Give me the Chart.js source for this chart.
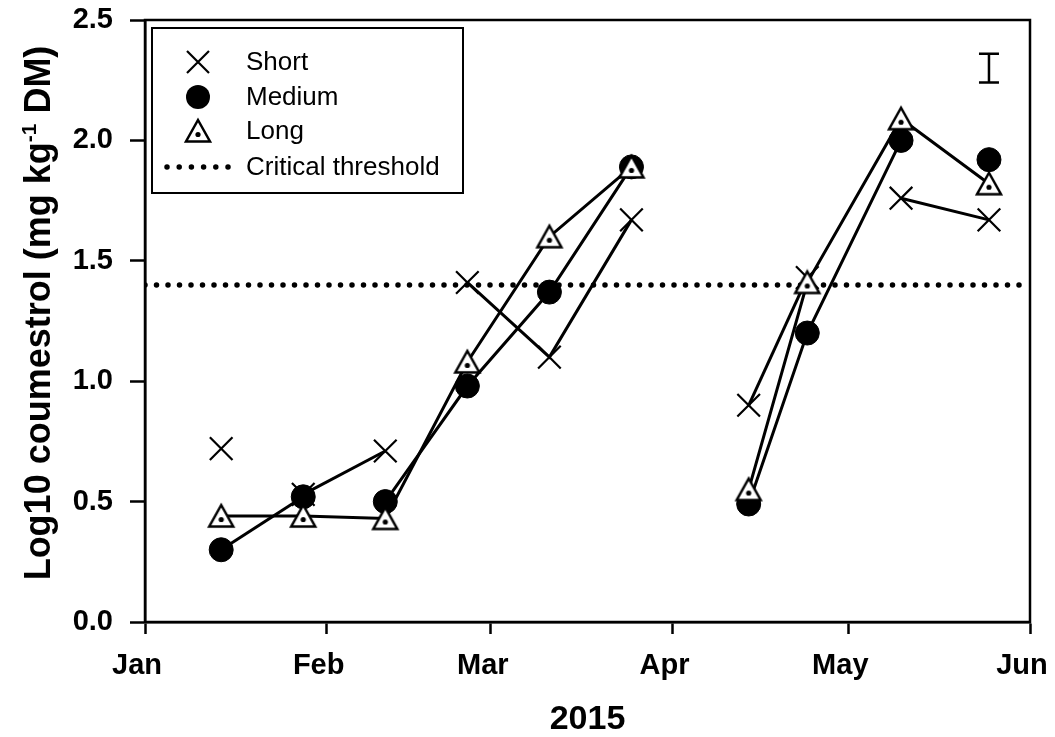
<!DOCTYPE html>
<html>
<head>
<meta charset="utf-8">
<title>Coumestrol</title>
<script src="https://cdn.jsdelivr.net/npm/chart.js@4/dist/chart.umd.min.js"></script>
<style>
    html, body { margin: 0; padding: 0; background: #fff; }
</style>
</head>
<body>
<canvas id="myChart" width="1055" height="737"></canvas>
<script>
// sampling dates and log10 coumestrol per regrowth treatment
const sampleDates = ['2015-01-14', '2015-01-28', '2015-02-11', '2015-02-25', '2015-03-11',
                     '2015-03-25', '2015-04-14', '2015-04-24', '2015-05-10', '2015-05-25'];
const shortVals  = [0.72, 0.53, 0.71, 1.41, 1.10, 1.67, 0.90, 1.43, 1.76, 1.67];
const mediumVals = [0.30, 0.52, 0.50, 0.98, 1.37, 1.89, 0.49, 1.20, 2.00, 1.92];
const longVals   = [0.44, 0.44, 0.43, 1.08, 1.60, 1.89, 0.55, 1.41, 2.09, 1.82];

// index of the first point of each segment that is left unjoined
const shortBreaks  = [0, 2, 5, 7];
const mediumBreaks = [1, 5, 8];
const longBreaks   = [5];

const threshold = 1.4;
const lsdDate = '2015-05-25';
const lsdLow = 2.24;
const lsdHigh = 2.36;

const monthStarts = ['2015-01-01', '2015-02-01', '2015-03-01', '2015-04-01', '2015-05-01', '2015-06-01'];
const monthLabels = ['Jan', 'Feb', 'Mar', 'Apr', 'May', 'Jun'];
const yTicks = [0, 0.5, 1.0, 1.5, 2.0, 2.5];

const FONT = '"Liberation Sans", Arial, sans-serif';
const dayOf = d => (Date.parse(d) - Date.parse('2015-01-01')) / 86400000;
const toPoints = vals => sampleDates.map((d, i) => ({ x: dayOf(d), y: vals[i] }));
const hideBreaks = breaks => ctx => breaks.includes(ctx.p0DataIndex) ? 'rgba(0,0,0,0)' : '#000';

// open triangle with a dot in the middle
function makeTriangle() {
    const c = document.createElement('canvas');
    c.width = 30;
    c.height = 28;
    const g = c.getContext('2d');
    g.beginPath();
    g.moveTo(15, 3);
    g.lineTo(27, 24.5);
    g.lineTo(3, 24.5);
    g.closePath();
    g.fillStyle = '#fff';
    g.fill();
    g.lineWidth = 2.5;
    g.strokeStyle = '#000';
    g.stroke();
    g.beginPath();
    g.arc(15, 17.5, 2.6, 0, Math.PI * 2);
    g.fillStyle = '#000';
    g.fill();
    return c;
}
const triangle = makeTriangle();

// frame, LSD bar, legend and y title
const extras = {
    id: 'extras',
    afterDraw(chart) {
        const { ctx, chartArea: a, scales } = chart;
        ctx.save();
        ctx.strokeStyle = '#000';
        ctx.fillStyle = '#000';

        ctx.lineWidth = 2.5;
        ctx.strokeRect(a.left, a.top, a.right - a.left, a.bottom - a.top);

        // LSD bar
        const bx = scales.x.getPixelForValue(dayOf(lsdDate));
        const by1 = scales.y.getPixelForValue(lsdHigh);
        const by2 = scales.y.getPixelForValue(lsdLow);
        ctx.beginPath();
        ctx.moveTo(bx, by1); ctx.lineTo(bx, by2);
        ctx.moveTo(bx - 10, by1); ctx.lineTo(bx + 10, by1);
        ctx.moveTo(bx - 10, by2); ctx.lineTo(bx + 10, by2);
        ctx.stroke();

        // legend
        ctx.lineWidth = 2;
        ctx.strokeRect(152, 28, 311, 165);
        const mx = 198, tx = 246;
        const rows = [62, 97, 131, 167];

        ctx.lineWidth = 2.2;
        ctx.beginPath();
        ctx.moveTo(mx - 11, rows[0] - 11); ctx.lineTo(mx + 11, rows[0] + 11);
        ctx.moveTo(mx + 11, rows[0] - 11); ctx.lineTo(mx - 11, rows[0] + 11);
        ctx.stroke();

        ctx.beginPath();
        ctx.arc(mx, rows[1], 12, 0, Math.PI * 2);
        ctx.fill();

        ctx.drawImage(triangle, mx - 15, rows[2] - 14);

        ctx.lineWidth = 5.5;
        ctx.lineCap = 'round';
        ctx.setLineDash([0, 12.2]);
        ctx.beginPath();
        ctx.moveTo(167, rows[3]); ctx.lineTo(229, rows[3]);
        ctx.stroke();
        ctx.setLineDash([]);

        ctx.font = '26px ' + FONT;
        ctx.textBaseline = 'middle';
        ctx.textAlign = 'left';
        ['Short', 'Medium', 'Long', 'Critical threshold'].forEach((t, i) => ctx.fillText(t, tx, rows[i] + 1));

        // y title with superscript
        const main = 'bold 36px ' + FONT;
        const sup = 'bold 21px ' + FONT;
        const parts = [['Log10 coumestrol (mg kg', main, 0], ['-1', sup, -14], [' DM)', main, 0]];
        let total = 0;
        parts.forEach(p => { ctx.font = p[1]; total += ctx.measureText(p[0]).width; });
        ctx.translate(50, 313);
        ctx.rotate(-Math.PI / 2);
        ctx.textBaseline = 'alphabetic';
        let px = -total / 2;
        parts.forEach(p => {
            ctx.font = p[1];
            ctx.fillText(p[0], px, p[2]);
            px += ctx.measureText(p[0]).width;
        });
        ctx.restore();
    }
};

const ctx = document.getElementById('myChart');

new Chart(ctx, {
    type: 'line',
    data: {
        datasets: [{
            label: 'Long',
            data: toPoints(longVals),
            order: 1,
            borderColor: '#000',
            borderWidth: 3,
            pointStyle: triangle,
            segment: { borderColor: hideBreaks(longBreaks) }
        },
        {
            label: 'Medium',
            data: toPoints(mediumVals),
            order: 2,
            borderColor: '#000',
            borderWidth: 3,
            pointStyle: 'circle',
            pointRadius: 12,
            pointBackgroundColor: '#000',
            pointBorderColor: '#000',
            pointBorderWidth: 1,
            segment: { borderColor: hideBreaks(mediumBreaks) }
        },
        {
            label: 'Short',
            data: toPoints(shortVals),
            order: 3,
            borderColor: '#000',
            borderWidth: 3,
            pointStyle: 'crossRot',
            pointRadius: 16,
            pointBorderColor: '#000',
            pointBorderWidth: 2.2,
            segment: { borderColor: hideBreaks(shortBreaks) }
        },
        {
            label: 'Critical threshold',
            data: [{ x: dayOf(monthStarts[0]), y: threshold }, { x: dayOf(monthStarts[5]), y: threshold }],
            order: 4,
            borderColor: '#000',
            borderWidth: 5.5,
            borderDash: [0, 11.5],
            borderCapStyle: 'round',
            pointRadius: 0
        }]
    },
    options: {
        responsive: false,
        animation: false,
        layout: { padding: { top: 20, right: 25, left: 0, bottom: 0 } },
        elements: { line: { tension: 0 } },
        plugins: {
            legend: { display: false },
            tooltip: { enabled: false }
        },
        scales: {
            x: {
                type: 'linear',
                min: dayOf(monthStarts[0]),
                max: dayOf(monthStarts[5]),
                afterBuildTicks: s => { s.ticks = monthStarts.map(d => ({ value: dayOf(d) })); },
                afterFit: s => {
                    s.height = 115;
                    s.paddingLeft = 0;
                    s.paddingRight = 0;
                },
                ticks: {
                    callback: (v, i) => monthLabels[i],
                    color: '#000',
                    font: { family: FONT, size: 29, weight: 'bold' },
                    padding: 15,
                    labelOffset: -8,
                    maxRotation: 0,
                    autoSkip: false
                },
                grid: { drawOnChartArea: false, tickLength: 12, tickWidth: 2.5, tickColor: '#000' },
                border: { color: '#000', width: 2.5 },
                title: {
                    display: true,
                    text: '2015',
                    color: '#000',
                    font: { family: FONT, size: 34, weight: 'bold', lineHeight: 1 },
                    padding: { top: 0, bottom: 0 }
                }
            },
            y: {
                min: 0,
                max: 2.5,
                afterBuildTicks: s => { s.ticks = yTicks.map(v => ({ value: v })); },
                afterFit: s => {
                    s.width = 145;
                    s.paddingTop = 0;
                    s.paddingBottom = 0;
                },
                ticks: {
                    callback: v => v.toFixed(1),
                    color: '#000',
                    font: { family: FONT, size: 29, weight: 'bold' },
                    padding: 17
                },
                grid: { drawOnChartArea: false, tickLength: 15, tickWidth: 2.5, tickColor: '#000' },
                border: { color: '#000', width: 2.5 }
            }
        }
    },
    plugins: [extras]
});
</script>
</body>
</html>
